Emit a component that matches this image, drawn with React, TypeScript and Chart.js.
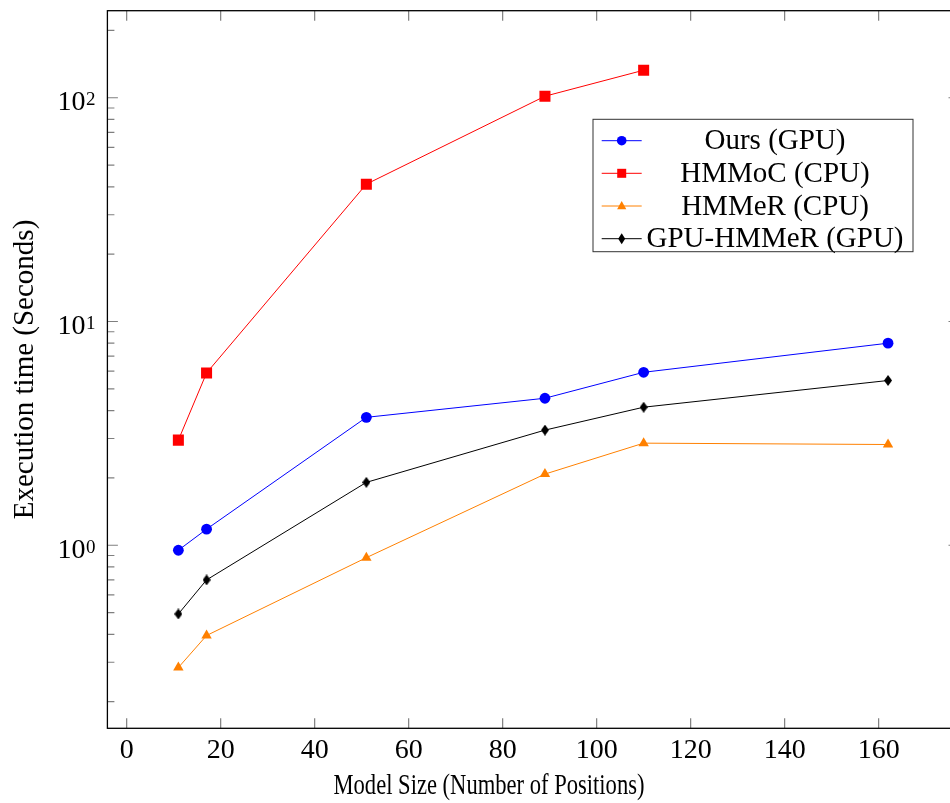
import React, { useEffect, useRef } from 'react';
import { Chart, registerables } from 'chart.js';

Chart.register(...registerables);

// ---- data ----
const modelSizes = [11, 17, 51, 89, 110, 162];
const hmmocSizes = [11, 17, 51, 89, 110];
const oursGpu = [0.95, 1.18, 3.73, 4.54, 5.93, 8.0];
const hmmocCpu = [2.95, 5.89, 41.1, 101.6, 132.8];
const hmmerCpu = [0.284, 0.395, 0.88, 2.08, 2.86, 2.82];
const gpuHmmer = [0.493, 0.7, 1.91, 3.27, 4.14, 5.45];
const seriesLabels = ['Ours (GPU)', 'HMMoC (CPU)', 'HMMeR (CPU)', 'GPU-HMMeR (GPU)'];
const xTickValues = [0, 20, 40, 60, 80, 100, 120, 140, 160];
const yDecadeExponents = [-1, 0, 1, 2];
const yLabelExponents = [0, 1, 2];
const xTitle = 'Model Size (Number of Positions)';
const yTitle = 'Execution time (Seconds)';

const FONT = '"Liberation Serif", "Times New Roman", serif';
const CANVAS_W = 970;
const CANVAS_H = 803;

function makeDiamond(w: number, h: number, color: string) {
  const c = document.createElement('canvas');
  c.width = w;
  c.height = h;
  const g = c.getContext('2d')!;
  g.fillStyle = color;
  g.beginPath();
  g.moveTo(w / 2, 0);
  g.lineTo(w, h / 2);
  g.lineTo(w / 2, h);
  g.lineTo(0, h / 2);
  g.closePath();
  g.fill();
  return c;
}

function drawMarker(ctx: CanvasRenderingContext2D, kind: string, x: number, y: number, color: string) {
  ctx.save();
  ctx.fillStyle = color;
  ctx.beginPath();
  if (kind === 'circle') {
    ctx.arc(x, y, 4.8, 0, Math.PI * 2);
  } else if (kind === 'rect') {
    ctx.rect(x - 4.5, y - 4.5, 9, 9);
  } else if (kind === 'triangle') {
    ctx.moveTo(x, y - 5);
    ctx.lineTo(x + 4.6, y + 3.2);
    ctx.lineTo(x - 4.6, y + 3.2);
    ctx.closePath();
  } else {
    ctx.moveTo(x, y - 5.5);
    ctx.lineTo(x + 3.5, y);
    ctx.lineTo(x, y + 5.5);
    ctx.lineTo(x - 3.5, y);
    ctx.closePath();
  }
  ctx.fill();
  ctx.restore();
}

const markerKinds = ['circle', 'rect', 'triangle', 'diamond'];

const framePlugin = {
  id: 'pgfFrame',
  afterDatasetsDraw(chart: any) {
    const ctx: CanvasRenderingContext2D = chart.ctx;
    const { left, right, top, bottom } = chart.chartArea;
    const xs = chart.scales.x;
    const ys = chart.scales.y;
    ctx.save();

    // ticks
    ctx.strokeStyle = 'rgba(0,0,0,0.5)';
    ctx.lineWidth = 1.2;
    ctx.beginPath();
    for (const v of xTickValues) {
      const px = xs.getPixelForValue(v);
      ctx.moveTo(px, bottom);
      ctx.lineTo(px, bottom - 10);
      ctx.moveTo(px, top);
      ctx.lineTo(px, top + 10);
    }
    for (const e of yDecadeExponents) {
      for (let m = 1; m <= 9; m++) {
        const val = m * Math.pow(10, e);
        if (val < ys.min || val > ys.max) continue;
        const py = ys.getPixelForValue(val);
        const len = m === 1 ? 10.5 : 7;
        ctx.moveTo(left, py);
        ctx.lineTo(left + len, py);
        ctx.moveTo(right, py);
        ctx.lineTo(right - len, py);
      }
    }
    ctx.stroke();

    // frame
    ctx.strokeStyle = '#000';
    ctx.lineWidth = 1.3;
    ctx.strokeRect(left, top, right - left, bottom - top);

    // x tick labels
    ctx.fillStyle = '#000';
    ctx.font = `28px ${FONT}`;
    ctx.textAlign = 'center';
    ctx.textBaseline = 'alphabetic';
    for (const v of xTickValues) {
      ctx.fillText(String(v), xs.getPixelForValue(v), 757.5);
    }

    // y tick labels 10^e
    for (const e of yLabelExponents) {
      const py = ys.getPixelForValue(Math.pow(10, e));
      ctx.font = `19px ${FONT}`;
      ctx.textAlign = 'right';
      ctx.fillText(String(e), 95.5, py + 7.5);
      const supW = ctx.measureText(String(e)).width;
      ctx.font = `28px ${FONT}`;
      ctx.fillText('10', 95.5 - supW - 0.5, py + 12.5);
    }

    // axis titles
    ctx.textAlign = 'center';
    ctx.font = `29px ${FONT}`;
    ctx.save();
    ctx.translate(489, 794);
    const wTitle = ctx.measureText(xTitle).width;
    ctx.scale(311 / wTitle, 1);
    ctx.fillText(xTitle, 0, 0);
    ctx.restore();

    ctx.save();
    ctx.translate(33, (top + bottom) / 2);
    ctx.rotate(-Math.PI / 2);
    ctx.font = `29px ${FONT}`;
    ctx.fillText(yTitle, 0, 0);
    ctx.restore();

    // legend
    const lx0 = 593, ly0 = 119.3, lx1 = 913, ly1 = 251.7;
    ctx.fillStyle = '#fff';
    ctx.fillRect(lx0, ly0, lx1 - lx0, ly1 - ly0);
    ctx.strokeStyle = '#333';
    ctx.lineWidth = 1;
    ctx.strokeRect(lx0, ly0, lx1 - lx0, ly1 - ly0);
    const rowY = [140.7, 173.3, 206, 238.7];
    chart.data.datasets.forEach((ds: any, i: number) => {
      const y = rowY[i];
      ctx.strokeStyle = ds.borderColor;
      ctx.lineWidth = 1;
      ctx.beginPath();
      ctx.moveTo(601.7, y);
      ctx.lineTo(641.7, y);
      ctx.stroke();
      drawMarker(ctx, markerKinds[i], 621.7, y, ds.pointBackgroundColor);
      ctx.fillStyle = '#000';
      ctx.font = `29px ${FONT}`;
      ctx.textAlign = 'center';
      ctx.textBaseline = 'middle';
      ctx.fillText(ds.label, 775, y + 1);
    });

    ctx.restore();
  },
};

export default function App() {
  const ref = useRef<HTMLCanvasElement | null>(null);

  useEffect(() => {
    if (!ref.current) return;
    const toPoints = (xs: number[], ys: number[]) => xs.map((x, i) => ({ x, y: ys[i] }));
    const diamond = makeDiamond(8, 11, '#000');
    const chart = new Chart(ref.current, {
      type: 'line',
      data: {
        datasets: [
          {
            label: seriesLabels[0],
            data: toPoints(modelSizes, oursGpu),
            borderColor: '#0000ff',
            backgroundColor: '#0000ff',
            pointBackgroundColor: '#0000ff',
            pointBorderWidth: 0,
            pointStyle: 'circle',
            pointRadius: 5.4,
            borderWidth: 1,
          },
          {
            label: seriesLabels[1],
            data: toPoints(hmmocSizes, hmmocCpu),
            borderColor: '#ff0000',
            backgroundColor: '#ff0000',
            pointBackgroundColor: '#ff0000',
            pointBorderWidth: 0,
            pointStyle: 'rect',
            pointRadius: 7.8,
            borderWidth: 1,
          },
          {
            label: seriesLabels[2],
            data: toPoints(modelSizes, hmmerCpu),
            borderColor: '#ff8000',
            backgroundColor: '#ff8000',
            pointBackgroundColor: '#ff8000',
            pointBorderWidth: 0,
            pointStyle: 'triangle',
            pointRadius: 6,
            borderWidth: 1,
          },
          {
            label: seriesLabels[3],
            data: toPoints(modelSizes, gpuHmmer),
            borderColor: '#000000',
            backgroundColor: '#000000',
            pointBackgroundColor: '#000000',
            pointBorderWidth: 0,
            pointStyle: diamond as any,
            pointRadius: 5,
            borderWidth: 1,
          },
        ],
      },
      options: {
        responsive: false,
        animation: false,
        devicePixelRatio: 1,
        layout: {
          padding: { left: 107.4, right: CANVAS_W - 959, top: 10.7, bottom: CANVAS_H - 728.3 },
        },
        plugins: {
          legend: { display: false },
          tooltip: { enabled: false },
          title: { display: false },
        },
        elements: { line: { tension: 0 } },
        scales: {
          x: { type: 'linear', display: false, min: -4.1, max: 177.1 },
          y: { type: 'logarithmic', display: false, min: 0.152, max: 245 },
        },
      },
      plugins: [framePlugin],
    });
    return () => chart.destroy();
  }, []);

  return (
    <div style={{ position: 'absolute', left: 0, top: 0, width: 950, height: 803, overflow: 'hidden', background: '#fff' }}>
      <canvas ref={ref} width={CANVAS_W} height={CANVAS_H} style={{ width: CANVAS_W, height: CANVAS_H, display: 'block' }} />
    </div>
  );
}
